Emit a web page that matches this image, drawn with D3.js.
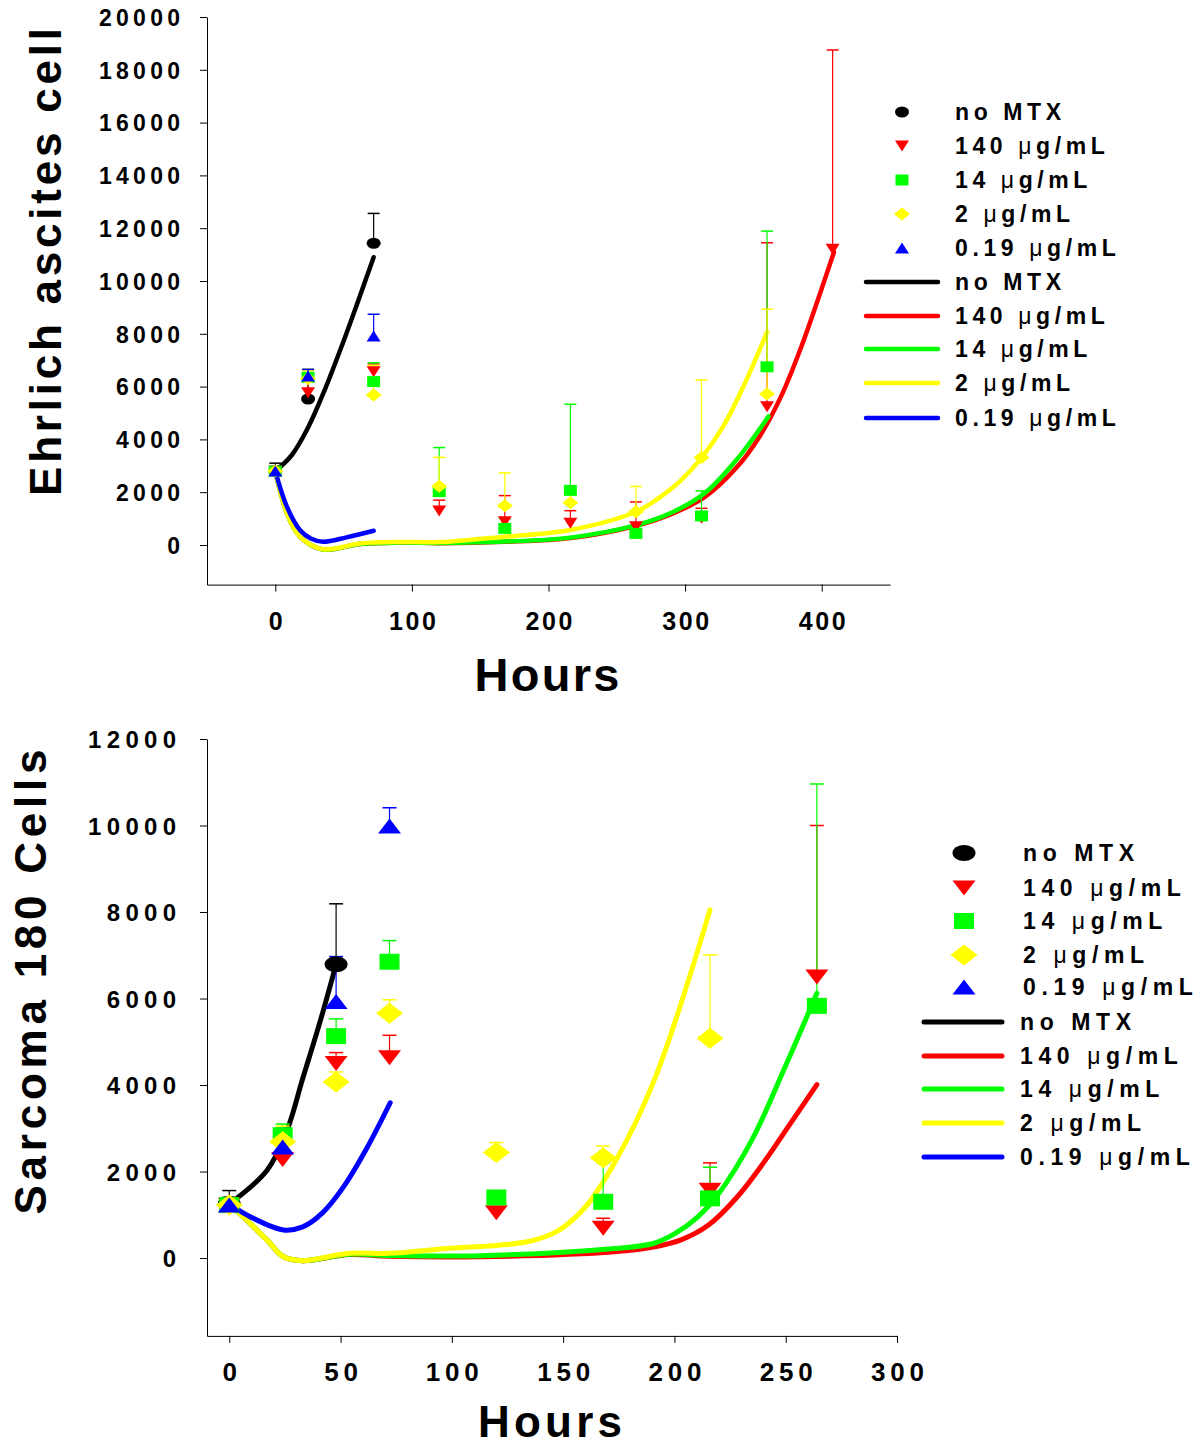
<!DOCTYPE html>
<html>
<head>
<meta charset="utf-8">
<script src="https://cdn.jsdelivr.net/npm/d3@7"></script>
<style>
    body { margin: 0; background: #fff; }
    text { font-family: "Liberation Sans", Arial, sans-serif; font-weight: bold; fill: #000; }
</style>
</head>
<body>
<svg id="chart" width="1201" height="1446"></svg>
<script>
// series labels, shared by both panels
const seriesNames = ["no MTX", "140 μg/mL", "14 μg/mL", "2 μg/mL", "0.19 μg/mL"];

// ---- Ehrlich ascites cell (top) ----
const ehrHours = [0, 24, 72, 120, 168, 216, 264, 312, 360, 408];
const ehrNoMtx = [2800, 5530, 11430];
const ehrNoMtxErr = [3100, 6200, 12560];
const ehr140 = [2800, 5770, 6560, 1290, 880, 820, 690, 1010, 5240, 11200];
const ehr140Err = [2950, 6650, 6860, 1700, 1870, 1300, 1630, 1390, 11450, 18750];
const ehr14 = [2800, 6350, 6190, 2020, 630, 2070, 440, 1100, 6750];
const ehr14Err = [2950, 6650, 6900, 3690, 1000, 5330, 700, 2050, 11890];
const ehr2 = [2800, 6300, 5680, 2230, 1490, 1600, 1260, 3310, 5720];
const ehr2Err = [2900, 6600, 6800, 3320, 2730, 1900, 2220, 6250, 8930];
const ehr019 = [2800, 6400, 7920];
const ehr019Err = [2950, 6650, 8740];

// fitted curves: [hours, cells]
const ehrFitNoMtx = [[0, 2800], [12, 3400], [24, 4450], [36, 5850], [48, 7450], [60, 9150], [72, 10900]];
const ehrFit140 = [[0, 2800], [8.5, 1200], [18, 320], [35, -170], [62, 40], [91, 90], [120, 70], [168, 120], [216, 260], [265, 740], [289, 1150], [314, 1800], [338, 2950], [355, 4150], [370, 5600], [385, 7500], [409, 11100]];
const ehrFit14 = [[0, 2800], [8.5, 1200], [18, 320], [35, -170], [62, 40], [91, 90], [120, 80], [168, 130], [216, 280], [265, 760], [289, 1200], [314, 1950], [338, 3250], [361, 4870]];
const ehrFit2 = [[0, 2800], [8.5, 1200], [18, 320], [35, -160], [62, 60], [91, 115], [120, 110], [168, 315], [216, 570], [264, 1260], [280, 1750], [296, 2400], [312, 3300], [328, 4500], [344, 6150], [360, 8060]];
const ehrFit019 = [[0, 2800], [8.5, 1450], [18, 570], [26, 250], [35, 125], [52, 290], [72, 540]];

const ehrXTicks = [0, 100, 200, 300, 400];
const ehrYTicks = [0, 2000, 4000, 6000, 8000, 10000, 12000, 14000, 16000, 18000, 20000];

// ---- Sarcoma 180 (bottom) ----
const sarHours = [0, 24, 48, 72, 120, 168, 216, 264];
const sarNoMtx = [1250, null, 6790];
const sarNoMtxErr = [1560, null, 8190];
const sar140 = [1225, 2280, 4500, 4630, 1050, 690, 1570, 6500];
const sar140Err = [1400, 2900, 4750, 5150, null, 920, 2200, 10000];
const sar14 = [1225, 2840, 5130, 6850, 1400, 1300, 1380, 5830];
const sar14Err = [1400, 3100, 5530, 7340, null, 2200, 2100, 10960];
const sar2 = [1225, 2690, 4070, 5660, 2440, 2320, 5080];
const sar2Err = [1400, 3050, 4300, 5970, 2670, 2590, 7010];
const sar019 = [1225, 2570, 5930, 9990];
const sar019Err = [1400, 3000, 6970, 10410];

const sarFitNoMtx = [[0, 1250], [17, 2030], [26, 2960], [33, 4150], [41, 5500], [48, 6790]];
const sarFit140 = [[0, 1250], [9.4, 800], [17, 415], [24.4, 30], [33, -60], [54, 80], [72, 40], [113, 30], [173, 145], [190, 250], [203, 420], [215, 750], [228, 1400], [240, 2200], [252, 3100], [264, 4010]];
const sarFit14 = [[0, 1250], [9.4, 800], [17, 415], [24.4, 30], [33, -60], [54, 90], [72, 60], [113, 55], [173, 220], [190, 330], [200, 560], [210, 930], [220, 1500], [235, 2750], [250, 4450], [264, 6120]];
const sarFit2 = [[0, 1250], [9.4, 800], [17, 415], [24.4, 30], [33, -60], [54, 110], [72, 110], [99, 225], [122, 300], [136, 400], [148, 640], [160, 1180], [173, 2190], [191, 4120], [216, 8050]];
const sarFit019 = [[0, 1250], [9.4, 955], [24.4, 650], [33, 720], [42, 1050], [51.4, 1650], [61.9, 2550], [72.3, 3590]];

const sarXTicks = [0, 50, 100, 150, 200, 250, 300];
const sarYTicks = [0, 2000, 4000, 6000, 8000, 10000, 12000];

const colors = ["#000000", "#ff0000", "#00ff00", "#ffff00", "#0000ff"];
const shapes = ["circle", "triDown", "square", "diamond", "triUp"];

const svg = d3.select("#chart");

// marker outline centred on 0,0 (w x h box)
function shapePath(type, w, h) {
    const a = w / 2, b = h / 2;
    if (type === "circle") return `M${-a},0A${a},${b} 0 1,0 ${a},0A${a},${b} 0 1,0 ${-a},0Z`;
    if (type === "triDown") return `M${-a},${-b}L${a},${-b}L0,${b}Z`;
    if (type === "triUp") return `M${-a},${b}L${a},${b}L0,${-b}Z`;
    if (type === "square") return `M${-a},${-b}L${a},${-b}L${a},${b}L${-a},${b}Z`;
    return `M0,${-b}L${a},0L0,${b}L${-a},0Z`;
}

// digits only, so the width is easy to work out
function numLength(str, fs, ls) {
    return str.length * 0.556 * fs + (str.length - 1) * ls;
}

function legendText(g, x, y, name, fs, ls) {
    const t = g.append("text")
        .attr("x", x).attr("y", y)
        .attr("font-size", fs)
        .style("letter-spacing", ls + "px");
    name.split(/(μ)/).forEach(part => {
        if (!part) return;
        const sp = t.append("tspan").text(part);
        if (part === "μ") sp.style("font-weight", "normal");
    });
}

function drawPanel(p) {
    const x = d3.scaleLinear().domain(p.xDomain).range(p.xRange);
    const y = d3.scaleLinear().domain(p.yDomain).range(p.yRange);
    const g = svg.append("g");

    // Y axis
    const yAxis = g.append("g")
        .attr("transform", `translate(${p.xRange[0]},0)`)
        .call(d3.axisLeft(y).tickValues(p.yTicks).tickSize(7).tickSizeOuter(0).tickPadding(p.yPad).tickFormat(d3.format("d")));
    yAxis.attr("font-family", null).attr("font-size", null);
    yAxis.selectAll("text")
        .attr("font-size", p.yFs)
        .attr("dy", "0.36em")
        .attr("textLength", d => numLength(String(d), p.yFs, p.yLs));

    // X axis
    const xAxis = g.append("g")
        .attr("transform", `translate(0,${p.yRange[0]})`)
        .call(d3.axisBottom(x).tickValues(p.xTicks).tickSize(7).tickSizeOuter(0).tickFormat(d3.format("d")));
    xAxis.attr("font-family", null).attr("font-size", null);
    xAxis.selectAll("text")
        .attr("font-size", p.xFs)
        .attr("y", p.xLabelY)
        .attr("dy", 0)
        .attr("textLength", d => numLength(String(d), p.xFs, p.xLs));

    // axis titles
    g.append("text")
        .attr("transform", `translate(${p.yTitle.x},${p.yTitle.y}) rotate(-90)`)
        .attr("text-anchor", "middle")
        .attr("font-size", p.yTitle.fs)
        .attr("textLength", p.yTitle.len)
        .text(p.yTitle.text);
    g.append("text")
        .attr("x", p.xTitle.x).attr("y", p.xTitle.y)
        .attr("text-anchor", "middle")
        .attr("font-size", p.xTitle.fs)
        .attr("textLength", p.xTitle.len)
        .text("Hours");

    // fitted curves
    const line = d3.line().x(d => x(d[0])).y(d => y(d[1])).curve(d3.curveCatmullRom.alpha(0.5));
    [1, 2, 3, 4, 0].forEach(i => {
        g.append("path")
            .datum(p.fits[i])
            .attr("fill", "none")
            .attr("stroke", colors[i])
            .attr("stroke-width", p.lineW)
            .attr("stroke-linecap", "round")
            .attr("stroke-linejoin", "round")
            .attr("d", line);
    });

    // error bars (upper only) then markers
    p.values.forEach((vals, i) => {
        vals.forEach((v, j) => {
            const e = p.errs[i][j];
            if (v == null || e == null) return;
            const cx = x(p.hours[j]);
            g.append("line")
                .attr("x1", cx).attr("x2", cx)
                .attr("y1", y(v)).attr("y2", y(e))
                .attr("stroke", colors[i]).attr("stroke-width", 1.2);
            g.append("line")
                .attr("x1", cx - p.capW / 2).attr("x2", cx + p.capW / 2)
                .attr("y1", y(e)).attr("y2", y(e))
                .attr("stroke", colors[i]).attr("stroke-width", 1.5);
        });
    });
    p.values.forEach((vals, i) => {
        const sz = p.sizes[shapes[i]];
        vals.forEach((v, j) => {
            if (v == null) return;
            g.append("path")
                .attr("d", shapePath(shapes[i], sz[0], sz[1]))
                .attr("transform", `translate(${x(p.hours[j])},${y(v)})`)
                .attr("fill", colors[i]);
        });
    });

    // legend
    const L = p.legend;
    seriesNames.forEach((name, i) => {
        const sz = p.sizes[shapes[i]];
        g.append("path")
            .attr("d", shapePath(shapes[i], sz[0], sz[1]))
            .attr("transform", `translate(${L.symX},${L.symRows[i]})`)
            .attr("fill", colors[i]);
        legendText(g, L.symTextX, L.symRows[i] + L.baseOff, name, L.fs, L.ls);

        g.append("line")
            .attr("x1", L.lineX[0]).attr("x2", L.lineX[1])
            .attr("y1", L.lineRows[i]).attr("y2", L.lineRows[i])
            .attr("stroke", colors[i]).attr("stroke-width", p.lineW)
            .attr("stroke-linecap", "round");
        legendText(g, L.lineTextX, L.lineRows[i] + L.baseOff, name, L.fs, L.ls);
    });
}

drawPanel({
    hours: ehrHours,
    values: [ehrNoMtx, ehr140, ehr14, ehr2, ehr019],
    errs: [ehrNoMtxErr, ehr140Err, ehr14Err, ehr2Err, ehr019Err],
    fits: [ehrFitNoMtx, ehrFit140, ehrFit14, ehrFit2, ehrFit019],
    xDomain: [-50, 450], xRange: [207, 890],
    yDomain: [-1500, 20000], yRange: [584.6, 17],
    xTicks: ehrXTicks, yTicks: ehrYTicks,
    yFs: 23, yLs: 4.3, yPad: 20,
    xFs: 25, xLs: 2.6, xLabelY: 45,
    yTitle: { text: "Ehrlich ascites cell", x: 61, y: 262, fs: 44, len: 468 },
    xTitle: { x: 547, y: 691, fs: 47, len: 145 },
    lineW: 4.5, capW: 12,
    sizes: { circle: [14, 11], triDown: [14, 11], square: [13, 11], diamond: [16, 13], triUp: [14, 11] },
    legend: {
        symX: 902, symTextX: 955, lineX: [866, 938], lineTextX: 955,
        symRows: [112, 146, 180, 214, 248], lineRows: [282, 316, 349, 383, 418],
        baseOff: 8, fs: 23, ls: 4.6
    }
});

drawPanel({
    hours: sarHours,
    values: [sarNoMtx, sar140, sar14, sar2, sar019],
    errs: [sarNoMtxErr, sar140Err, sar14Err, sar2Err, sar019Err],
    fits: [sarFitNoMtx, sarFit140, sarFit14, sarFit2, sarFit019],
    xDomain: [-10, 300], xRange: [207, 897],
    yDomain: [-1800, 12000], yRange: [1335.9, 739],
    xTicks: sarXTicks, yTicks: sarYTicks,
    yFs: 24, yLs: 5.3, yPad: 24,
    xFs: 26, xLs: 4.8, xLabelY: 45,
    yTitle: { text: "Sarcoma 180 Cells", x: 46, y: 982, fs: 44, len: 465 },
    xTitle: { x: 550, y: 1437, fs: 44, len: 144 },
    lineW: 5, capW: 14,
    sizes: { circle: [23, 16], triDown: [23, 15], square: [20, 16], diamond: [27, 21], triUp: [23, 15] },
    legend: {
        symX: 964, symTextX: 1023, lineX: [924, 1002], lineTextX: 1020,
        symRows: [853, 888, 921, 955, 987], lineRows: [1022, 1056, 1089, 1123, 1157],
        baseOff: 8, fs: 23, ls: 5.6
    }
});
</script>
</body>
</html>
